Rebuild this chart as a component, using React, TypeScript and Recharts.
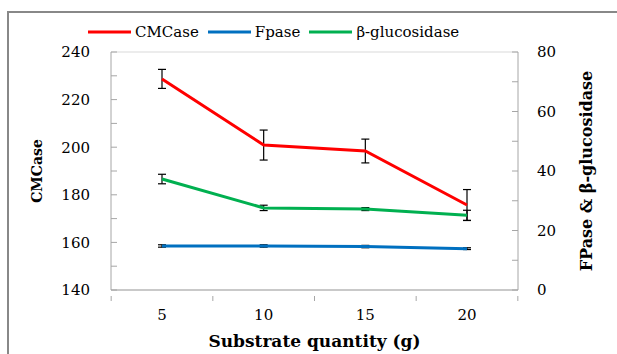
import {
  ComposedChart,
  Line,
  XAxis,
  YAxis,
  CartesianGrid,
  ErrorBar,
  Legend,
} from "recharts";

const categories = ["5", "10", "15", "20"];
const cmcase = [228.7, 200.9, 198.4, 175.7];
const cmcaseErr = [4, 6.3, 5, 6.5];
const fpase = [14.8, 14.8, 14.6, 13.9];
const fpaseErr = [0.4, 0.4, 0.4, 0.3];
const bgluc = [37.3, 27.6, 27.2, 25.1];
const bglucErr = [1.6, 0.9, 0.5, 1.7];

const leftTicks = [140, 150, 160, 170, 180, 190, 200, 210, 220, 230, 240];
const rightTicks = [0, 10, 20, 30, 40, 50, 60, 70, 80];
const gridValues = [140, 160, 180, 200, 220, 240];

const series = [
  { key: "cmcase", name: "CMCase", color: "#FF0000" },
  { key: "fpase", name: "Fpase", color: "#0070C0" },
  { key: "bgluc", name: "β-glucosidase", color: "#00B050" },
];

const data = categories.map((c, i) => ({
  name: c,
  cmcase: cmcase[i],
  cmcaseErr: cmcaseErr[i],
  fpase: fpase[i],
  fpaseErr: fpaseErr[i],
  bgluc: bgluc[i],
  bglucErr: bglucErr[i],
}));

const font = "'DejaVu Serif', serif";
const axisColor = "#A6A6A6";
const xPad = 51;

const renderLegend = () => (
  <div style={{ display: "flex", alignItems: "center", fontFamily: font, fontSize: 15, color: "#000" }}>
    {series.map((s) => (
      <div key={s.key} style={{ display: "flex", alignItems: "center", marginRight: 9 }}>
        <svg width={43} height={6} style={{ marginRight: 4 }}>
          <line x1={0} y1={3} x2={43} y2={3} stroke={s.color} strokeWidth={3} />
        </svg>
        <span>{s.name}</span>
      </div>
    ))}
  </div>
);

// category label plus tick marks between categories (Excel style)
const CategoryTick = (props: any) => {
  const { x, y, payload, index, width, visibleTicksCount } = props;
  const n = visibleTicksCount || categories.length;
  const step = (width - 2 * xPad) / (n - 1);
  const axisY = y - 12;
  return (
    <g>
      <line x1={x - step / 2} y1={axisY} x2={x - step / 2} y2={axisY + 5} stroke={axisColor} />
      {index === n - 1 && (
        <line x1={x + step / 2} y1={axisY} x2={x + step / 2} y2={axisY + 5} stroke={axisColor} />
      )}
      <text x={x} y={y} dy={12} textAnchor="middle" fill="#000" fontFamily={font} fontSize={15}>
        {payload.value}
      </text>
    </g>
  );
};

export default function App() {
  return (
    <div style={{ position: "absolute", left: 0, top: 0, width: 617, height: 354, overflow: "hidden", background: "#fff" }}>
      <div
        style={{
          position: "absolute",
          left: 7,
          top: 11,
          width: 700,
          height: 400,
          borderTop: "2px solid #888",
          borderLeft: "2px solid #888",
        }}
      />
      <ComposedChart
        width={617}
        height={354}
        data={data}
        margin={{ top: 30, right: 39, left: 0, bottom: 0 }}
        style={{ position: "absolute", left: 0, top: 0 }}
      >
        <CartesianGrid vertical={false} stroke="#D9D9D9" yAxisId="grid" />
        <XAxis
          dataKey="name"
          xAxisId="cat"
          padding={{ left: xPad, right: xPad }}
          tickLine={false}
          axisLine={{ stroke: axisColor }}
          tick={<CategoryTick />}
          tickMargin={12}
          height={64}
          interval={0}
          label={{
            value: "Substrate quantity (g)",
            position: "insideBottom",
            offset: 7,
            fill: "#000",
            fontFamily: font,
            fontSize: 17,
            fontWeight: "bold",
          }}
        />
        <YAxis
          yAxisId="grid"
          domain={[140, 240]}
          ticks={gridValues}
          width={0}
          tick={false}
          axisLine={false}
          tickLine={false}
        />
        <YAxis
          yAxisId="left"
          domain={[140, 240]}
          ticks={leftTicks}
          interval={0}
          tickFormatter={(v: number) => (v % 20 === 0 ? String(v) : "")}
          tickSize={-6}
          tickMargin={27}
          width={111}
          axisLine={{ stroke: axisColor }}
          tickLine={{ stroke: axisColor }}
          tick={{ fill: "#000", fontFamily: font, fontSize: 15 }}
          label={{
            value: "CMCase",
            angle: -90,
            position: "insideLeft",
            offset: 37,
            fill: "#000",
            fontFamily: font,
            fontSize: 14,
            fontWeight: "bold",
            style: { textAnchor: "middle" },
          }}
        />
        <YAxis
          yAxisId="right"
          orientation="right"
          domain={[0, 80]}
          ticks={rightTicks}
          interval={0}
          tickFormatter={(v: number) => (v % 20 === 0 ? String(v) : "")}
          tickSize={-6}
          tickMargin={25}
          width={60}
          axisLine={{ stroke: axisColor }}
          tickLine={{ stroke: axisColor }}
          tick={{ fill: "#000", fontFamily: font, fontSize: 15 }}
          label={{
            value: "FPase & β-glucosidase",
            angle: -90,
            position: "insideRight",
            offset: -8,
            fill: "#000",
            fontFamily: font,
            fontSize: 16,
            fontWeight: "bold",
            style: { textAnchor: "middle" },
          }}
        />
        <Legend
          verticalAlign="top"
          align="left"
          height={22}
          content={renderLegend}
          wrapperStyle={{ top: 23, left: 88 }}
        />
        <Line
          xAxisId="cat"
          yAxisId="left"
          dataKey="cmcase"
          name="CMCase"
          stroke="#FF0000"
          strokeWidth={3}
          dot={false}
          isAnimationActive={false}
        >
          <ErrorBar dataKey="cmcaseErr" width={4} stroke="#000" strokeWidth={1.2} isAnimationActive={false} />
        </Line>
        <Line
          xAxisId="cat"
          yAxisId="right"
          dataKey="fpase"
          name="Fpase"
          stroke="#0070C0"
          strokeWidth={3}
          dot={false}
          isAnimationActive={false}
        >
          <ErrorBar dataKey="fpaseErr" width={4} stroke="#000" strokeWidth={1.2} isAnimationActive={false} />
        </Line>
        <Line
          xAxisId="cat"
          yAxisId="right"
          dataKey="bgluc"
          name="β-glucosidase"
          stroke="#00B050"
          strokeWidth={3}
          dot={false}
          isAnimationActive={false}
        >
          <ErrorBar dataKey="bglucErr" width={4} stroke="#000" strokeWidth={1.2} isAnimationActive={false} />
        </Line>
      </ComposedChart>
    </div>
  );
}
